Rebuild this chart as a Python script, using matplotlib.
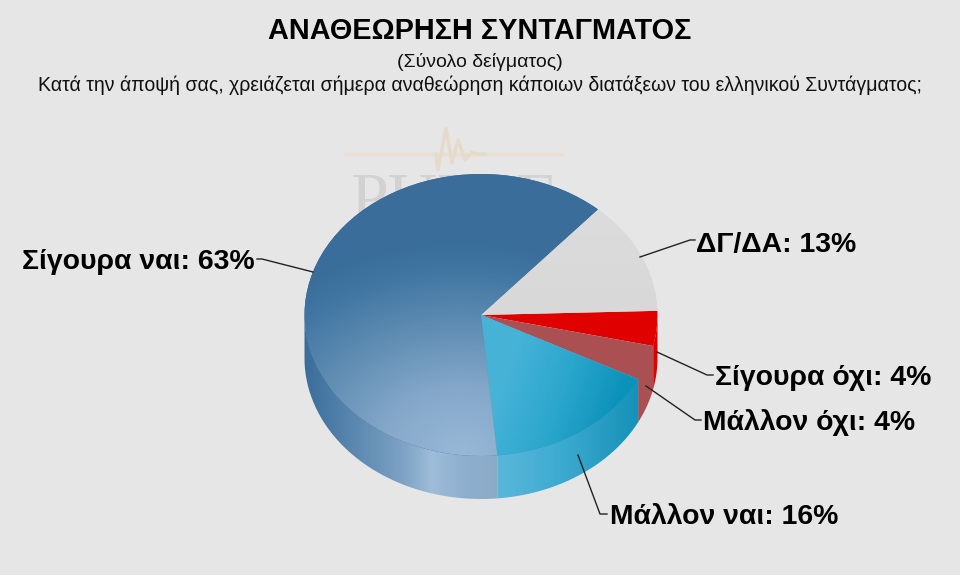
import numpy as np
import matplotlib
matplotlib.use('Agg')
import matplotlib.pyplot as plt
from matplotlib.colors import to_rgb
from matplotlib.patches import Polygon

plt.rcParams['font.family'] = ['Liberation Sans', 'DejaVu Sans']

# clockwise from the grey slice
labels = ['ΔΓ/ΔΑ: 13%', 'Σίγουρα όχι: 4%', 'Μάλλον όχι: 4%', 'Μάλλον ναι: 16%', 'Σίγουρα ναι: 63%']
values = [13, 4, 4, 16, 63]
colors = ['#d9d9d9', '#e00000', '#ab5052', '#1f9fc6', '#3a6d9a']

title = 'ΑΝΑΘΕΩΡΗΣΗ ΣΥΝΤΑΓΜΑΤΟΣ'
subtitle = '(Σύνολο δείγματος)'
question = 'Κατά την άποψή σας, χρειάζεται σήμερα αναθεώρηση κάποιων διατάξεων του ελληνικού Συντάγματος;'

BG = '#e6e6e6'
W, H = 960, 575
# ellipse of the top face, in pixels
CX, CY, RX, RY, DEPTH = 481, 315, 176.5, 141, 43


def ramp(t, stops):
    # stops = [(pos, colour), ...]
    pos = [s[0] for s in stops]
    rgb = np.array([to_rgb(s[1]) for s in stops])
    return np.dstack([np.interp(t, pos, rgb[:, i]) for i in range(3)])


def pixel_axes(z):
    a = fig.add_axes([0, 0, 1, 1], zorder=z)
    a.set_xlim(0, W)
    a.set_ylim(H, 0)
    a.axis('off')
    return a


fig = plt.figure(figsize=(9.6, 5.75), dpi=100, facecolor=BG)

# watermark behind the pie
back = pixel_axes(1)
back.plot([345, 562], [154, 154], color='#eadfd3', lw=2.4)
back.plot([436, 438, 446, 452, 458, 465, 472, 477, 485],
          [154, 170, 128, 163, 140, 160, 152, 154, 154], color='#e8dacb', lw=2.4)
back.text(454, 203, 'PULSE', family='Liberation Serif', fontsize=49, color='#d2d2d2',
          ha='center', va='center')

# pie axes: unit circle stretched to the ellipse
ax = fig.add_axes([0, 0, 1, 1], zorder=2)
wedges, _ = ax.pie(values, colors=colors, startangle=48.5, counterclock=False, radius=1)
ax.set_aspect('auto')
xlim = (-CX / RX, (W - CX) / RX)
ylim = ((CY - H) / RY, CY / RY)
ax.set_xlim(*xlim)
ax.set_ylim(*ylim)
ax.patch.set_visible(False)
ax.axis('off')
for w in wedges:
    w.set_zorder(5)

xx = np.linspace(xlim[0], xlim[1], W)
yy = np.linspace(ylim[1], ylim[0], H)
gx, gy = np.meshgrid(xx, yy)
px = CX + gx * RX
py = CY - gy * RY
d = DEPTH / RY

# side wall stops by pixel x, same order as the wedges
side_stops = [None,
              [(645, '#e00000'), (660, '#e00000')],
              [(630, '#ab5052'), (655, '#ab5052')],
              [(497, '#5ab8da'), (560, '#3eaad0'), (637, '#1692b8')],
              [(304, '#3a6d9a'), (330, '#4a7ba6'), (400, '#7ba0c3'), (432, '#9dbdd9'), (460, '#8fb0cf'), (497, '#8aaac8')]]
for w, stops in zip(wedges, side_stops):
    if stops is None:
        continue
    # pie runs clockwise so the angles are negative here; front half is -180..0
    a = max(w.theta1, -180)
    b = min(w.theta2, 0)
    th = np.radians(np.linspace(a, b, 120))
    low = np.column_stack([np.cos(th), np.sin(th)])[::-1] - [0, d]
    # upper edge a bit higher than the rim so no seam shows under the top face
    top = np.column_stack([np.cos(th), 0.97 * np.sin(th)])
    clip = Polygon(np.vstack([top, low]), transform=ax.transData, fc='none', ec='none')
    ax.add_patch(clip)
    im = ax.imshow(ramp(px, stops), extent=(xlim[0], xlim[1], ylim[0], ylim[1]),
                   aspect='auto', zorder=3, interpolation='bilinear')
    im.set_clip_path(clip)

# shading on the top face
dist = np.sqrt(((px - 462) / 177) ** 2 + ((py - 452) / 140) ** 2)
blue = ramp(dist, [(0.0, '#98b8d6'), (0.45, '#85a8ca'), (0.95, '#5c8ab0'), (1.3, '#4176a2'), (1.5, '#3a6d9a')])
cyan = ramp(px + 0.35 * (py - 400), [(500, '#45b2d6'), (560, '#2ba6cd'), (620, '#0b92ba')])
gray = ramp(py, [(210, '#dcdcdc'), (315, '#d8d8d8')])
for w, img in [(wedges[0], gray), (wedges[3], cyan), (wedges[4], blue)]:
    im = ax.imshow(img, extent=(xlim[0], xlim[1], ylim[0], ylim[1]), aspect='auto', zorder=6,
                   interpolation='bilinear')
    im.set_clip_path(w)
ax.set_xlim(*xlim)
ax.set_ylim(*ylim)

# texts and leaders on top
fg = pixel_axes(3)
fg.text(480, 31, title, ha='center', va='center', fontsize=20.8, fontweight='bold', color='black')
fg.text(480, 62, subtitle, ha='center', va='center', fontsize=14, color='#111111')
fg.text(480, 85, question, ha='center', va='center', fontsize=14.05, color='#111111')

label_pos = [(696, 245), (715, 378), (703, 423), (610, 517), (22, 262)]
leaders = [[(640, 257), (690, 240), (695, 240)],
           [(657, 352), (707, 375), (713, 375)],
           [(646, 386), (695, 420), (701, 420)],
           [(578, 455), (600, 514), (607, 514)],
           [(313, 272), (262, 259), (257, 259)]]
for lab, (x, y), pts in zip(labels, label_pos, leaders):
    fg.text(x, y, lab, ha='left', va='center', fontsize=20.4, fontweight='bold', color='black')
    fg.plot([p[0] for p in pts], [p[1] for p in pts], color='#222222', lw=1)

fig.savefig('out.png', dpi=100, facecolor=BG)
